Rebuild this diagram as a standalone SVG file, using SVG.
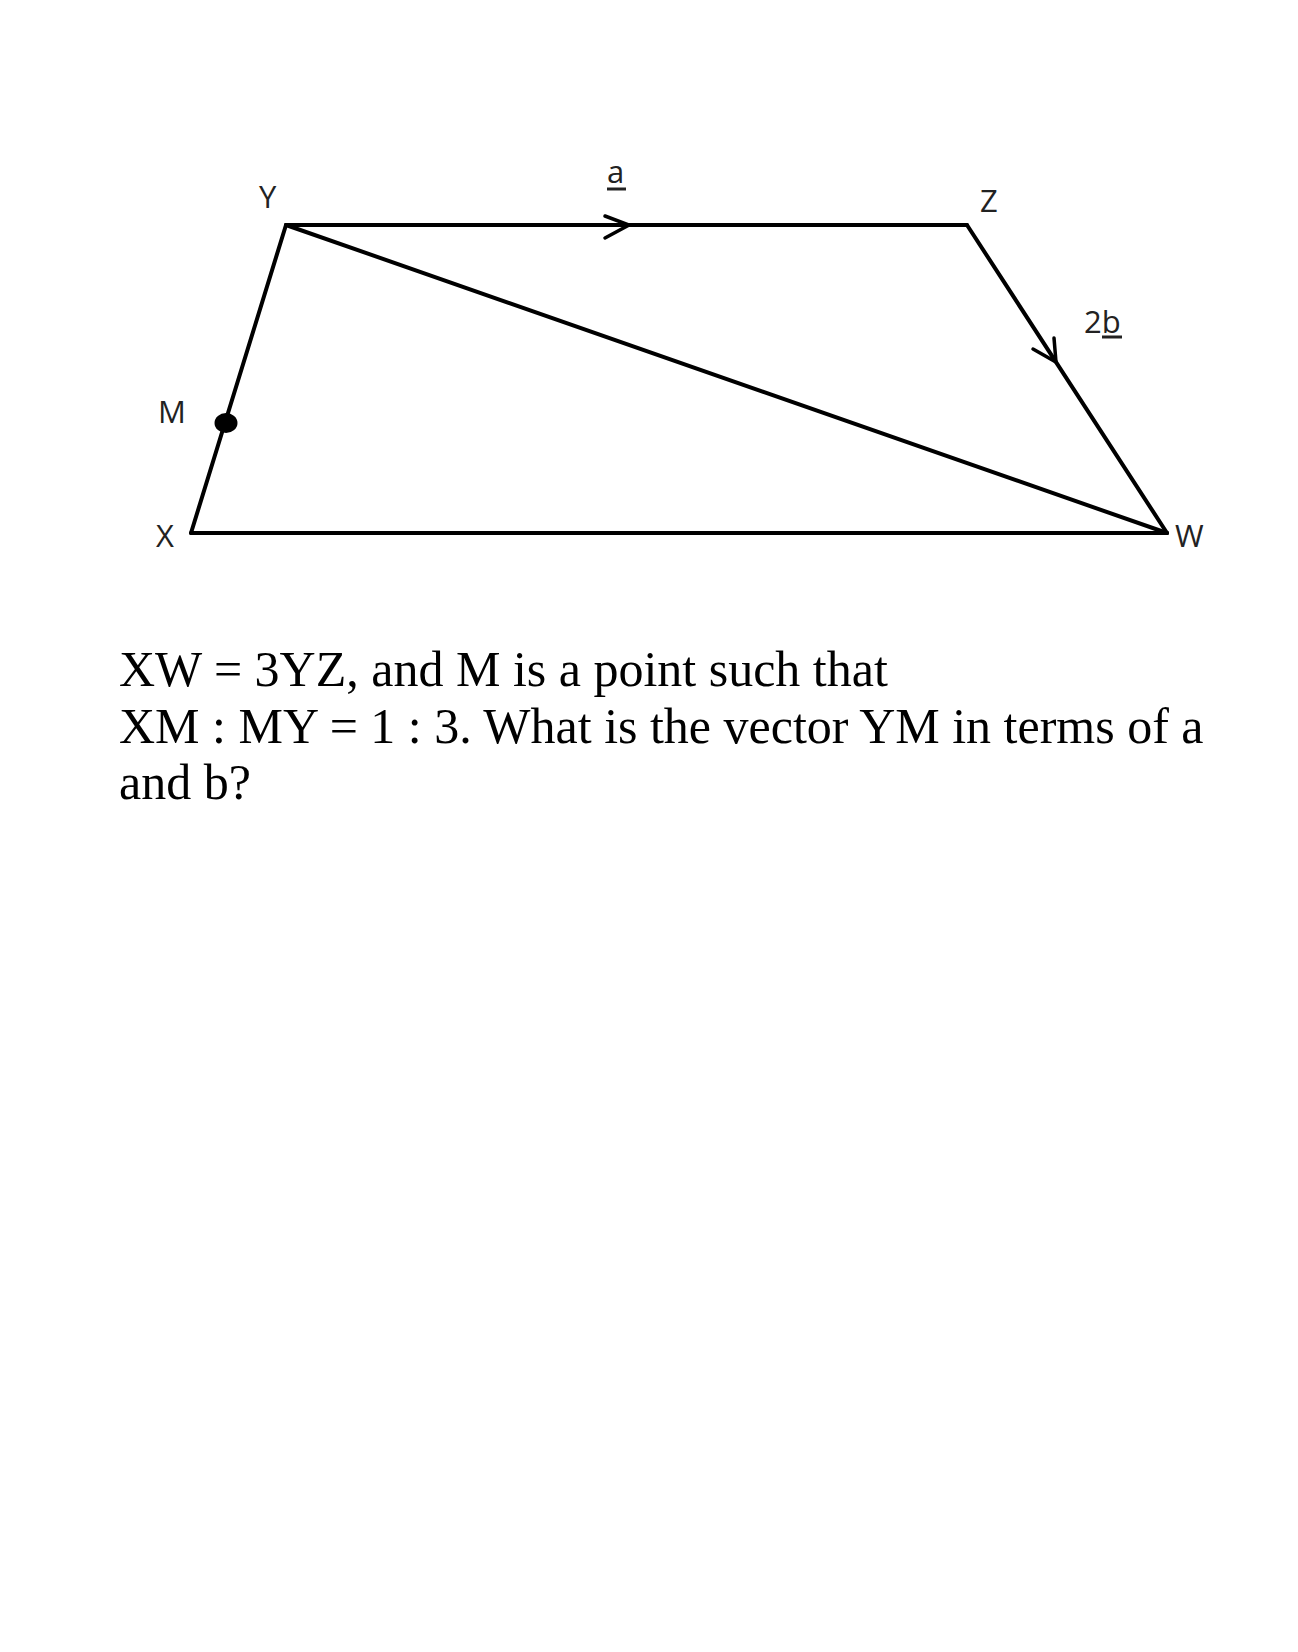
<svg xmlns="http://www.w3.org/2000/svg" width="1298" height="1652" viewBox="0 0 1298 1652">
<style>
.edge{fill:none;stroke:#000;stroke-width:4;stroke-linecap:round;stroke-linejoin:round}
.chev{fill:none;stroke:#000;stroke-width:3.5;stroke-linecap:round;stroke-linejoin:miter}
.lbl{font-family:"Open Sans","Liberation Sans",sans-serif;font-size:31px;fill:#222}
.q{font-family:"Liberation Serif","Times New Roman",serif;font-size:50px;fill:#000}
.ul{stroke:#222;stroke-width:3}
</style>
<rect width="1298" height="1652" fill="#fff"/>
<g id="connectors">
<line class="edge" x1="286" y1="225" x2="967" y2="225"/>
<line class="edge" x1="967" y1="225" x2="1167" y2="533"/>
<line class="edge" x1="1167" y1="533" x2="191" y2="533"/>
<line class="edge" x1="191" y1="533" x2="286" y2="225"/>
<line class="edge" x1="286" y1="225" x2="1167" y2="533"/>
<polyline class="chev" points="605,216 629,225 605,238"/>
<polyline class="chev" points="1033,349 1056,362 1054,338"/>
<g id="label-a"><text class="lbl" x="607" y="183">a</text><line class="ul" x1="607" y1="189" x2="626" y2="189"/></g>
<g id="label-2b"><text class="lbl" x="1084" y="333">2b</text><line class="ul" x1="1102" y1="337" x2="1122" y2="337"/></g>
</g>
<g id="node-Y"><text class="lbl" x="259" y="208">Y</text></g>
<g id="node-Z"><text class="lbl" x="980" y="212">Z</text></g>
<g id="node-M"><ellipse cx="226" cy="423" rx="11.5" ry="10" fill="#000"/><text class="lbl" x="158" y="423">M</text></g>
<g id="node-X"><text class="lbl" x="156" y="547">X</text></g>
<g id="node-W"><text class="lbl" x="1175" y="547">W</text></g>
<g id="question">
<text class="q" x="119" y="686">XW = 3YZ, and M is a point such that</text>
<text class="q" x="119" y="743">XM : MY = 1 : 3. What is the vector YM in terms of a</text>
<text class="q" x="119" y="799">and b?</text>
</g>
</svg>
